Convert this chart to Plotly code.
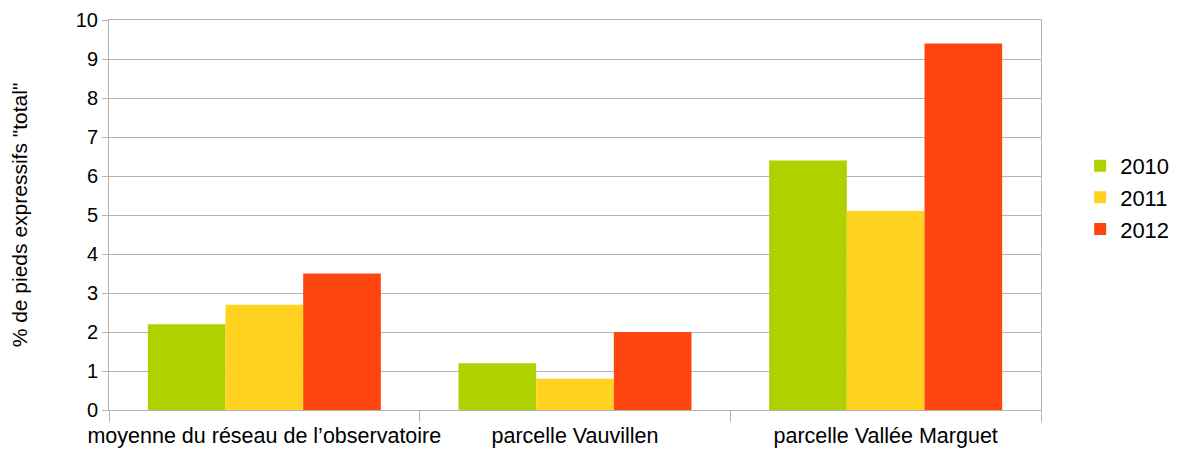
import plotly.graph_objects as go

categories = ["moyenne du réseau de l’observatoire", "parcelle Vauvillen", "parcelle Vallée Marguet"]
years = ["2010", "2011", "2012"]
v2010 = [2.2, 1.2, 6.4]
v2011 = [2.7, 0.8, 5.1]
v2012 = [3.5, 2.0, 9.4]
colors = ["#b0d000", "#ffd320", "#ff4510"]

fig = go.Figure()
for name, vals, col in zip(years, [v2010, v2011, v2012], colors):
    fig.add_trace(go.Bar(x=categories, y=vals, name=name, marker=dict(color=col, line_width=0)))

# page body has an 8px margin, so the figure is drawn 8px smaller
fig.update_layout(
    barmode="group",
    bargap=0.25,
    bargroupgap=0,
    width=1171, height=447,
    paper_bgcolor="white", plot_bgcolor="white",
    margin=dict(l=101, r=138, t=12, b=45, autoexpand=False),
    font=dict(family="Liberation Sans, Arial", color="black", size=19),
    legend=dict(x=1.042, y=0.545, yanchor="middle", xanchor="left",
                font=dict(size=22), itemwidth=30, tracegroupgap=0),
)
fig.update_xaxes(
    showline=True, linecolor="#b3b3b3", linewidth=1, mirror=True,
    ticks="outside", tickson="boundaries", ticklen=11, tickcolor="#b3b3b3",
    tickfont=dict(size=21.5), tickangle=0, automargin=False,
    ticklabelstandoff=6,
)
fig.update_yaxes(
    range=[0, 10], dtick=1, showgrid=True, gridcolor="#b3b3b3",
    showline=True, linecolor="#b3b3b3", linewidth=1, mirror=True,
    ticks="outside", ticklen=6, tickcolor="#b3b3b3", zeroline=False,
    title=dict(text='% de pieds expressifs "total"', font=dict(size=21), standoff=44),
    tickfont=dict(size=20), automargin=False,
)

fig.write_html("out.html")
